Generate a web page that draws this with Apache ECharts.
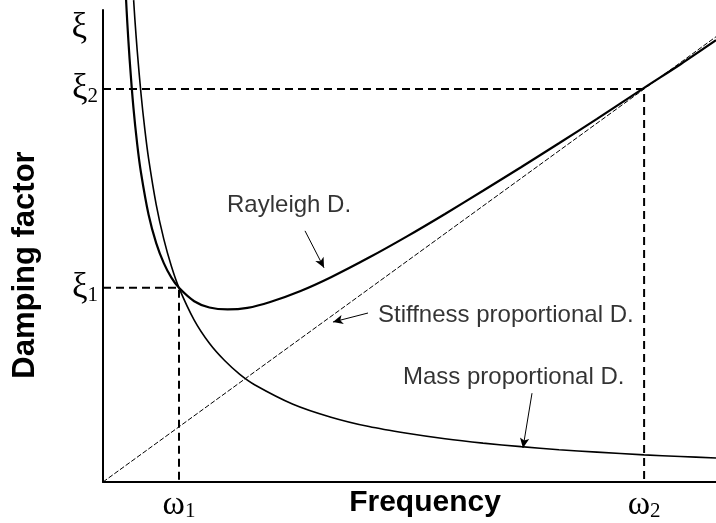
<!DOCTYPE html>
<html>
<head>
<meta charset="utf-8">
<script src="https://cdn.jsdelivr.net/npm/echarts@6/dist/echarts.min.js"></script>
<style>
html,body{margin:0;padding:0;background:#fff;}
#c{width:716px;height:523px;}
</style>
</head>
<body>
<div id="c"></div>
<script>
// Frequency in units of omega1 (omega1 = 1), damping in units of xi2 (xi2 = 1)
var omega1 = 1;
var omega2 = 7.12;
var xi1 = 0.494;
var xi2 = 1;
var xMax = 8.066;
var yMax = 1.201;

// Tick labels
var xTickValues = [1, 7.12];
var xTickLabels = ['{g|ω}{s|1}', '{g|ω}{s|2}'];
var yTickValues = [0.494, 1, 1.155];
var yTickLabels = ['{g|ξ}{s|1}', '{g|ξ}{s|2}', '{gp|ξ}'];

// Curves [frequency, damping]
var rayleigh = [
  [0.30,1.240],[0.32,1.168],[0.35,1.076],[0.40,0.953],[0.45,0.860],[0.50,0.787],
  [0.60,0.680],[0.70,0.608],[0.80,0.557],[0.90,0.520],[1.00,0.494],[1.20,0.460],
  [1.40,0.444],[1.64,0.439],[1.90,0.443],[2.20,0.458],[2.60,0.486],[3.00,0.521],
  [3.50,0.571],[4.00,0.625],[4.50,0.682],[5.00,0.741],[5.50,0.801],[6.00,0.862],
  [6.50,0.924],[7.12,1.003],[7.60,1.063],[8.066,1.124]
];
var massProp = [
  [0.403,1.226],[0.42,1.176],[0.45,1.098],[0.50,0.988],[0.55,0.898],[0.60,0.823],
  [0.70,0.706],[0.80,0.618],[0.90,0.549],[1.00,0.494],[1.20,0.412],[1.40,0.353],
  [1.60,0.309],[1.80,0.274],[2.00,0.247],[2.50,0.198],[3.00,0.165],[3.50,0.141],
  [4.00,0.124],[4.50,0.110],[5.00,0.099],[5.50,0.090],[6.00,0.082],[6.50,0.076],
  [7.12,0.069],[7.60,0.065],[8.066,0.061]
];
var stiffProp = [[0,0],[7.12,1],[8.066,1.133]];

// Guide lines
var guideXi1 = [[0,0.494],[1,0.494],[1,0]];
var guideXi2 = [[0,1],[7.12,1],[7.12,0]];

// Annotations
var annoTexts = ['Rayleigh D.', 'Stiffness proportional D.', 'Mass proportional D.'];
var annoPos = [[1.632,0.705],[3.618,0.425],[3.947,0.265]];
var arrowFrom = [[2.658,0.639],[3.487,0.430],[5.645,0.226]];
var arrowTo = [[2.908,0.545],[3.026,0.407],[5.526,0.0865]];

var chart = echarts.init(document.getElementById('c'), null, {renderer:'canvas'});

function pick(values, labels, v){
  var best = 0, d = Infinity;
  for (var i=0;i<values.length;i++){ var dd=Math.abs(values[i]-v); if(dd<d){d=dd;best=i;} }
  return labels[best];
}

var serif = 'Liberation Serif';
var sans = 'Liberation Sans';

var option = {
  animation: false,
  backgroundColor: '#fff',
  grid: {left: 103, top: 10, right: 0, bottom: 41, containLabel: false, outerBoundsMode: 'none'},
  xAxis: {
    type: 'value', min: 0, max: xMax,
    name: 'Frequency', nameLocation: 'middle', nameGap: 6, nameMoveOverlap: false,
    nameTextStyle: {fontFamily: sans, fontWeight: 'bold', fontSize: 30, color: '#000', padding: [0,0,0,31], verticalAlign: 'top'},
    axisLine: {show: true, onZero: false, lineStyle: {color: '#000', width: 2}},
    axisTick: {show: false},
    splitLine: {show: false},
    axisLabel: {
      customValues: xTickValues, margin: 6, color: '#000',
      formatter: function(v){ return pick(xTickValues, xTickLabels, v); },
      rich: {
        g: {fontFamily: serif, fontSize: 34, lineHeight: 34, verticalAlign: 'middle', color: '#000'},
        s: {fontFamily: serif, fontSize: 21, lineHeight: 34, verticalAlign: 'bottom', color: '#000'}
      }
    }
  },
  yAxis: {
    type: 'value', min: 0, max: yMax,
    name: 'Damping factor', nameLocation: 'middle', nameGap: 62, nameRotate: 90, nameMoveOverlap: false,
    nameTextStyle: {fontFamily: sans, fontWeight: 'bold', fontSize: 31, color: '#000', padding: [0,38,0,0]},
    axisLine: {show: true, onZero: false, lineStyle: {color: '#000', width: 2}},
    axisTick: {show: false},
    splitLine: {show: false},
    axisLabel: {
      customValues: yTickValues, margin: 5, color: '#000',
      formatter: function(v){ return pick(yTickValues, yTickLabels, v); },
      rich: {
        g: {fontFamily: serif, fontSize: 35, lineHeight: 36, verticalAlign: 'middle', color: '#000'},
        gp: {fontFamily: serif, fontSize: 35, lineHeight: 36, verticalAlign: 'middle', color: '#000', padding: [0,11,0,0]},
        s: {fontFamily: serif, fontSize: 21, lineHeight: 36, verticalAlign: 'bottom', color: '#000'}
      }
    }
  },
  series: [
    {type: 'line', data: guideXi2, symbol: 'none', silent: true, lineStyle: {color: '#000', width: 2, type: [8,5]}},
    {type: 'line', data: guideXi1, symbol: 'none', silent: true, lineStyle: {color: '#000', width: 2, type: [8,5]}},
    {type: 'line', name: 'Stiffness proportional D.', data: stiffProp, symbol: 'none', clip: false,
      lineStyle: {color: '#000', width: 1, type: [5,2]}},
    {type: 'line', name: 'Mass proportional D.', data: massProp, symbol: 'none', clip: false,
      smooth: 0.3, lineStyle: {color: '#000', width: 1.6}},
    {type: 'line', name: 'Rayleigh D.', data: rayleigh, symbol: 'none', clip: false,
      smooth: 0.3, lineStyle: {color: '#000', width: 2.2}},
    {type: 'line', data: [], symbol: 'none',
      markLine: {
        silent: true, animation: false,
        symbol: ['none','arrow'], symbolSize: [7,10],
        label: {show: false},
        lineStyle: {color: '#000', width: 1, type: 'solid'},
        data: arrowFrom.map(function(p,i){ return [{coord: p}, {coord: arrowTo[i]}]; })
      }
    },
    {type: 'scatter', symbolSize: 0, silent: true,
      data: annoPos.map(function(p,i){ return {value: p, name: annoTexts[i]}; }),
      label: {show: true, position: 'right', distance: 0, formatter: '{b}',
        fontFamily: sans, fontSize: 24, color: '#000'}
    }
  ]
};
chart.setOption(option);
</script>
</body>
</html>
